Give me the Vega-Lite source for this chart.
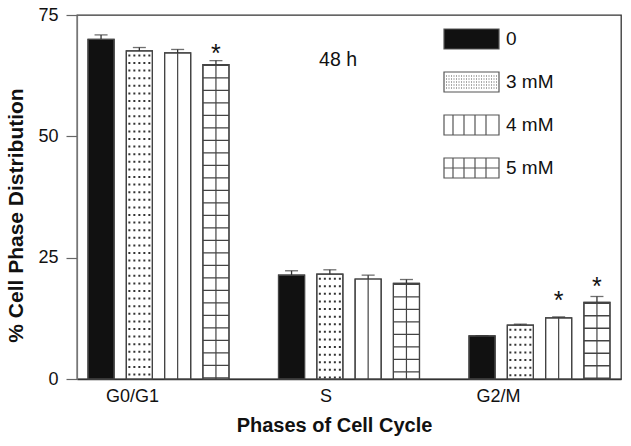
{
  "$schema": "https://vega.github.io/schema/vega-lite/v6.json",
  "width": 544,
  "height": 364,
  "autosize": "none",
  "padding": {"left": 77, "top": 15, "right": 10, "bottom": 67},
  "background": "white",
  "config": {
    "font": "Liberation Sans",
    "view": {"stroke": "#333333", "strokeWidth": 1.3}
  },
  "data": {
    "values": [
      {"phase": "G0/G1", "dose": "0", "value": 70.0, "upper": 70.9},
      {"phase": "G0/G1", "dose": "3 mM", "value": 67.6, "upper": 68.3},
      {"phase": "G0/G1", "dose": "4 mM", "value": 67.2, "upper": 67.9},
      {"phase": "G0/G1", "dose": "5 mM", "value": 64.8, "upper": 65.6, "star": 68.4},
      {"phase": "S", "dose": "0", "value": 21.4, "upper": 22.3},
      {"phase": "S", "dose": "3 mM", "value": 21.6, "upper": 22.5},
      {"phase": "S", "dose": "4 mM", "value": 20.6, "upper": 21.4},
      {"phase": "S", "dose": "5 mM", "value": 19.7, "upper": 20.5},
      {"phase": "G2/M", "dose": "0", "value": 8.9, "upper": 8.9},
      {"phase": "G2/M", "dose": "3 mM", "value": 11.1, "upper": 11.3},
      {"phase": "G2/M", "dose": "4 mM", "value": 12.6, "upper": 12.8, "star": 17.4},
      {"phase": "G2/M", "dose": "5 mM", "value": 15.8, "upper": 17.0, "star": 20.3}
    ]
  },
  "encoding": {
    "x": {
      "field": "phase",
      "type": "nominal",
      "scale": {"domain": ["G0/G1", "S", "G2/M"], "paddingInner": 0.26, "paddingOuter": 0.0578},
      "axis": {
        "title": "Phases of Cell Cycle",
        "titleFont": "Liberation Sans",
        "titleFontSize": 20,
        "titleFontWeight": "bold",
        "titleColor": "#111111",
        "titleX": 257,
        "titleY": 52,
        "titleBaseline": "alphabetic",
        "titleAlign": "center",
        "labelAngle": 0,
        "labelFont": "Liberation Sans",
        "labelFontSize": 18,
        "labelColor": "#111111",
        "labelPadding": 8,
        "labelOffset": {"condition": [{"test": "datum.value === 'G2/M'", "value": -41}, {"test": "datum.value === 'S'", "value": -23}], "value": -26},
        "ticks": false,
        "tickSize": 0,
        "domain": true,
        "domainColor": "#333333",
        "domainWidth": 1.3
      }
    }
  },
  "layer": [
    {
      "mark": {"type": "bar", "stroke": "#444444", "strokeWidth": 1.2},
      "encoding": {
        "xOffset": {"field": "dose", "type": "nominal", "scale": {"domain": ["0", "3 mM", "4 mM", "5 mM"], "paddingInner": 0.319, "paddingOuter": 0}},
        "y": {
          "field": "value",
          "type": "quantitative",
          "scale": {"domain": [0, 75], "nice": false},
          "axis": {
            "title": "% Cell Phase Distribution",
            "values": [0, 25, 50, 75],
            "grid": false,
            "tickSize": 11,
            "tickColor": "#666666",
            "tickWidth": 1.2,
            "domainColor": "#777777",
            "domainWidth": 1.2,
            "labelFont": "Liberation Sans",
            "labelFontSize": 18,
            "labelColor": "#111111",
            "labelPadding": 8,
            "titleFont": "Liberation Sans",
            "titleFontSize": 21,
            "titleFontWeight": "bold",
            "titleColor": "#111111",
            "titleX": -61,
            "titleY": 200,
            "titleAngle": -90,
            "titleBaseline": "middle",
            "titleAlign": "center"
          }
        },
        "fill": {
          "field": "dose",
          "type": "nominal",
          "scale": {"domain": ["0", "3 mM", "4 mM", "5 mM"], "range": ["#111111", "#ffffff", "#ffffff", "#ffffff"]},
          "legend": {
            "title": null,
            "orient": "none",
            "legendX": 366,
            "legendY": 13,
            "padding": 0,
            "symbolType": "M-1,-1H4.5V1H-1Z",
            "symbolSize": 400,
            "symbolStrokeColor": "#555555",
            "symbolStrokeWidth": 1.2,
            "labelFont": "Liberation Sans",
            "labelFontSize": 19,
            "labelColor": "#111111",
            "labelOffset": 41,
            "rowPadding": 17,
            "encode": {
              "symbols": {
                "update": {
                  "stroke": {"value": "#555555"},
                  "strokeWidth": {"value": 1.2},
                  "opacity": {"value": 1},
                  "shape": {"signal": "datum.value === '4 mM' ? 'M-1,-1H4.5V1H-1Z M-0.1,-1V1 M1,-1V1 M2.1,-1V1 M3.2,-1V1' : datum.value === '5 mM' ? 'M-1,-1H4.5V1H-1Z M-0.1,-1V1 M1,-1V1 M2.1,-1V1 M3.2,-1V1 M-1,0H4.5' : datum.value === '3 mM' ? 'M-1,-1H4.5V1H-1Z M-0.8,-0.6h0.1m0.15,0h0.1m0.15,0h0.1m0.15,0h0.1m0.15,0h0.1m0.15,0h0.1m0.15,0h0.1m0.15,0h0.1m0.15,0h0.1m0.15,0h0.1m0.15,0h0.1m0.15,0h0.1m0.15,0h0.1m0.15,0h0.1m0.15,0h0.1m0.15,0h0.1m0.15,0h0.1m0.15,0h0.1m0.15,0h0.1m0.15,0h0.1m0.15,0h0.1 M-0.8,-0.3h0.1m0.15,0h0.1m0.15,0h0.1m0.15,0h0.1m0.15,0h0.1m0.15,0h0.1m0.15,0h0.1m0.15,0h0.1m0.15,0h0.1m0.15,0h0.1m0.15,0h0.1m0.15,0h0.1m0.15,0h0.1m0.15,0h0.1m0.15,0h0.1m0.15,0h0.1m0.15,0h0.1m0.15,0h0.1m0.15,0h0.1m0.15,0h0.1m0.15,0h0.1 M-0.8,0h0.1m0.15,0h0.1m0.15,0h0.1m0.15,0h0.1m0.15,0h0.1m0.15,0h0.1m0.15,0h0.1m0.15,0h0.1m0.15,0h0.1m0.15,0h0.1m0.15,0h0.1m0.15,0h0.1m0.15,0h0.1m0.15,0h0.1m0.15,0h0.1m0.15,0h0.1m0.15,0h0.1m0.15,0h0.1m0.15,0h0.1m0.15,0h0.1m0.15,0h0.1 M-0.8,0.3h0.1m0.15,0h0.1m0.15,0h0.1m0.15,0h0.1m0.15,0h0.1m0.15,0h0.1m0.15,0h0.1m0.15,0h0.1m0.15,0h0.1m0.15,0h0.1m0.15,0h0.1m0.15,0h0.1m0.15,0h0.1m0.15,0h0.1m0.15,0h0.1m0.15,0h0.1m0.15,0h0.1m0.15,0h0.1m0.15,0h0.1m0.15,0h0.1m0.15,0h0.1 M-0.8,0.6h0.1m0.15,0h0.1m0.15,0h0.1m0.15,0h0.1m0.15,0h0.1m0.15,0h0.1m0.15,0h0.1m0.15,0h0.1m0.15,0h0.1m0.15,0h0.1m0.15,0h0.1m0.15,0h0.1m0.15,0h0.1m0.15,0h0.1m0.15,0h0.1m0.15,0h0.1m0.15,0h0.1m0.15,0h0.1m0.15,0h0.1m0.15,0h0.1m0.15,0h0.1' : 'M-1,-1H4.5V1H-1Z'"},
                  "fill": {"signal": "datum.value === '0' ? '#111111' : '#ffffff'"}
                }
              }
            }
          }
        }
      }
    },
    {
      "transform": [{"filter": "datum.dose === '3 mM'"}],
      "mark": {"type": "rule", "xOffset": -10, "strokeWidth": 2, "strokeDash": [2, 5.6], "strokeDashOffset": 4.1, "color": "#333333"},
      "encoding": {
        "x": {"field": "phase", "type": "nominal", "bandPosition": 0.3642},
        "y": {"field": "value", "type": "quantitative"},
        "y2": {"datum": 0}
      }
    },
    {
      "transform": [{"filter": "datum.dose === '3 mM'"}],
      "mark": {"type": "rule", "xOffset": -5, "strokeWidth": 2, "strokeDash": [2, 5.6], "strokeDashOffset": 4.1, "color": "#333333"},
      "encoding": {
        "x": {"field": "phase", "type": "nominal", "bandPosition": 0.3642},
        "y": {"field": "value", "type": "quantitative"},
        "y2": {"datum": 0}
      }
    },
    {
      "transform": [{"filter": "datum.dose === '3 mM'"}],
      "mark": {"type": "rule", "xOffset": 0, "strokeWidth": 2, "strokeDash": [2, 5.6], "strokeDashOffset": 4.1, "color": "#333333"},
      "encoding": {
        "x": {"field": "phase", "type": "nominal", "bandPosition": 0.3642},
        "y": {"field": "value", "type": "quantitative"},
        "y2": {"datum": 0}
      }
    },
    {
      "transform": [{"filter": "datum.dose === '3 mM'"}],
      "mark": {"type": "rule", "xOffset": 5, "strokeWidth": 2, "strokeDash": [2, 5.6], "strokeDashOffset": 4.1, "color": "#333333"},
      "encoding": {
        "x": {"field": "phase", "type": "nominal", "bandPosition": 0.3642},
        "y": {"field": "value", "type": "quantitative"},
        "y2": {"datum": 0}
      }
    },
    {
      "transform": [{"filter": "datum.dose === '3 mM'"}],
      "mark": {"type": "rule", "xOffset": 10, "strokeWidth": 2, "strokeDash": [2, 5.6], "strokeDashOffset": 4.1, "color": "#333333"},
      "encoding": {
        "x": {"field": "phase", "type": "nominal", "bandPosition": 0.3642},
        "y": {"field": "value", "type": "quantitative"},
        "y2": {"datum": 0}
      }
    },
    {
      "transform": [{"filter": "datum.dose === '5 mM'"}],
      "mark": {"type": "rule", "strokeWidth": 26, "strokeDash": [1.3, 11.2], "strokeDashOffset": 12.2, "color": "#444444"},
      "encoding": {
        "xOffset": {"field": "dose", "type": "nominal"},
        "y": {"field": "value", "type": "quantitative"},
        "y2": {"datum": 0}
      }
    },
    {
      "transform": [{"filter": "datum.dose === '4 mM' || datum.dose === '5 mM'"}],
      "mark": {"type": "rule", "strokeWidth": 1.2, "color": "#444444"},
      "encoding": {
        "xOffset": {"field": "dose", "type": "nominal"},
        "y": {"field": "value", "type": "quantitative"},
        "y2": {"datum": 0}
      }
    },
    {
      "mark": {"type": "bar", "filled": false, "stroke": "#444444", "strokeWidth": 1.2},
      "encoding": {
        "xOffset": {"field": "dose", "type": "nominal"},
        "y": {"field": "value", "type": "quantitative"}
      }
    },
    {
      "mark": {"type": "rule", "strokeWidth": 1.3, "color": "#333333"},
      "encoding": {
        "xOffset": {"field": "dose", "type": "nominal"},
        "y": {"field": "value", "type": "quantitative"},
        "y2": {"field": "upper"}
      }
    },
    {
      "mark": {"type": "tick", "size": 13, "thickness": 1.3, "color": "#333333"},
      "encoding": {
        "xOffset": {"field": "dose", "type": "nominal"},
        "y": {"field": "upper", "type": "quantitative"}
      }
    },
    {
      "transform": [{"filter": "isValid(datum.star)"}],
      "mark": {"type": "text", "text": "*", "font": "Liberation Sans", "fontSize": 25, "baseline": "alphabetic", "dy": 14.5, "color": "#111111"},
      "encoding": {
        "xOffset": {"field": "dose", "type": "nominal"},
        "y": {"field": "star", "type": "quantitative"}
      }
    },
    {
      "data": {"values": [{"phase": "S", "label": "48 h", "pos": 65.7}]},
      "mark": {"type": "text", "font": "Liberation Sans", "fontSize": 19.5, "dx": -11, "baseline": "middle", "color": "#111111"},
      "encoding": {
        "y": {"field": "pos", "type": "quantitative"},
        "text": {"field": "label"}
      }
    }
  ]
}
